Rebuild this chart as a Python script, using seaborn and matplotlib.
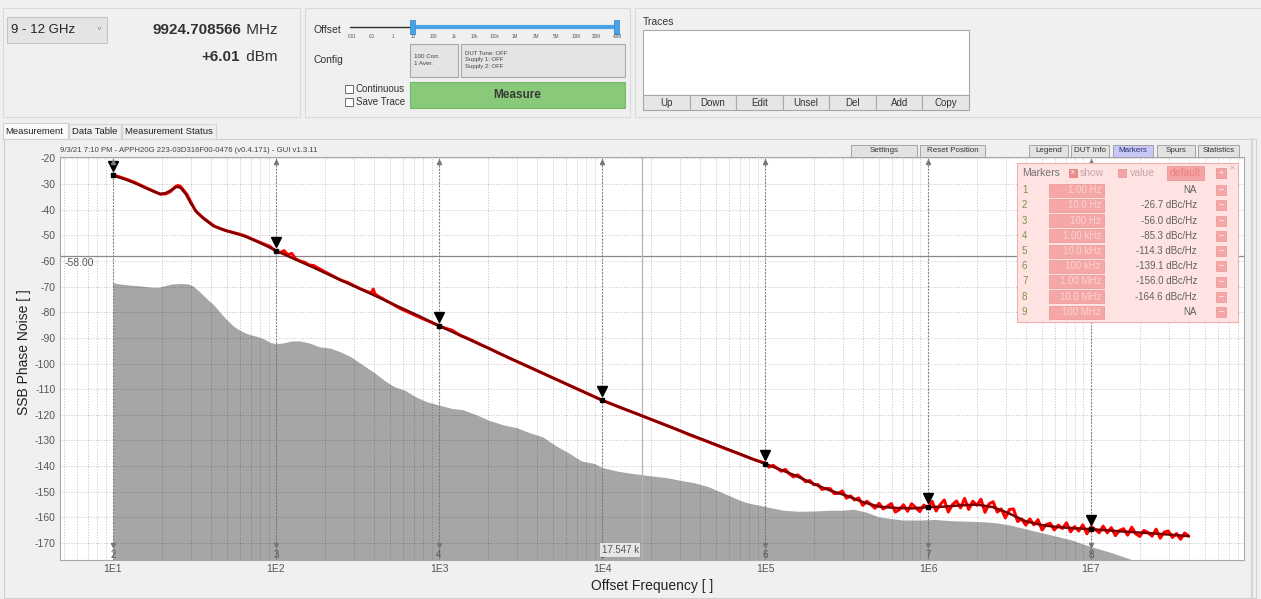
import numpy as np
import pandas as pd
import matplotlib
matplotlib.use("Agg")
import matplotlib.pyplot as plt
from matplotlib.patches import Rectangle
from matplotlib.lines import Line2D
from matplotlib.ticker import LogLocator, NullFormatter
from matplotlib import transforms
import seaborn as sns

# ---------------- data ----------------
# measured trace (raw, red) - low offset part
red_lo_freq = [10, 11, 12, 13.5, 15, 16.5, 18, 19.5, 21, 22.5, 24, 25, 26, 27, 28.5, 30, 32, 34, 36, 39,
               42, 46, 50, 55, 60, 66, 72, 78, 85, 92, 100, 106, 112, 118, 125, 132, 140, 150, 160, 170,
               180, 195, 210, 230, 250, 275, 300, 330, 360, 385, 395, 405, 430, 470, 520, 580, 650, 720,
               800, 900, 1000, 1100, 1200, 1350, 1500, 1650, 1800, 2000, 2300, 2700, 3200, 4000, 5000,
               6300, 8000, 10000, 13000, 17000, 22000, 28000, 35000, 45000, 56000, 70000, 85000]
red_lo_dbc = [-26.5, -27.3, -28.1, -29.3, -30.7, -31.9, -33.0, -34.0, -33.9, -33.0, -31.2, -30.6, -31.0,
              -32.3, -34.2, -37.0, -40.3, -42.0, -43.4, -45.0, -46.5, -47.5, -48.3, -49.0, -49.6, -50.5,
              -51.6, -52.5, -53.5, -54.4, -56.3, -56.8, -56.0, -57.6, -57.1, -59.2, -60.0, -60.6, -61.6,
              -61.8, -62.7, -63.9, -65.0, -66.3, -67.5, -68.4, -69.6, -70.9, -71.9, -72.5, -71.0, -72.9,
              -74.0, -75.4, -76.9, -78.6, -80.0, -81.3, -82.6, -84.0, -85.3, -86.3, -87.0, -89.0, -90.2,
              -91.4, -92.6, -93.9, -95.8, -97.9, -100.0, -102.8, -105.6, -108.5, -111.5, -114.3, -117.2,
              -120.0, -122.8, -125.4, -128.0, -130.6, -133.0, -135.3, -137.4]
# measured trace (raw, red) - noisy high offset part, 100 kHz .. 40 MHz (40 samples / decade)
red_hi_dbc = [-138.8, -140.4, -139.7, -140.8, -142.0, -141.3, -143.0, -144.2, -143.4, -144.6,
              -146.1, -145.6, -147.2, -147.2, -149.1, -148.7, -148.8, -150.7, -150.6, -149.7,
              -152.5, -151.6, -153.2, -152.4, -155.3, -153.7, -155.0, -156.4, -154.5, -156.7,
              -155.7, -154.6, -157.9, -156.9, -155.1, -157.6, -154.7, -156.2, -157.7, -155.2,
              -156.4, -153.7, -157.5, -155.0, -153.2, -157.9, -155.0, -153.6, -156.3, -152.6,
              -156.9, -153.7, -155.3, -152.9, -158.0, -154.7, -153.9, -157.9, -156.7, -160.2,
              -156.9, -156.7, -161.6, -160.6, -163.0, -160.6, -162.9, -160.9, -164.9, -162.8,
              -162.3, -164.9, -163.0, -164.3, -162.1, -165.6, -163.6, -165.3, -162.9, -166.4,
              -163.7, -164.6, -166.0, -163.4, -166.0, -164.0, -167.1, -165.1, -164.4, -166.9,
              -163.8, -166.4, -167.4, -165.1, -165.9, -167.3, -164.6, -168.1, -165.7, -165.3,
              -167.8, -166.3, -168.5, -166.1, -167.3]
red_hi_freq = np.logspace(5, 7.6, len(red_hi_dbc))

# smoothed trace (dark red)
smooth_freq = [10, 12, 14, 16, 18, 19.5, 21, 22.5, 24.6, 26, 28, 30, 32.6, 36, 41, 48, 54.6, 63, 72.6, 85,
               100, 130, 170, 220, 300, 400, 550, 760, 1000, 1600, 2700, 5000, 10000, 20000, 50000,
               1e5, 1.26e5, 1.58e5, 2e5, 2.51e5, 3.16e5, 3.98e5, 5.01e5, 6.31e5, 7.94e5,
               1e6, 1.26e6, 1.58e6, 2e6, 2.51e6, 3.16e6, 3.98e6, 5.01e6, 6.31e6, 7.94e6,
               1e7, 1.58e7, 2.51e7, 3.98e7]
smooth_dbc = [-26.7, -28.3, -30.0, -31.7, -33.1, -33.9, -33.6, -32.6, -31.1, -31.5, -34.0, -37.5, -41.0,
              -43.5, -46.3, -48.0, -49.0, -50.2, -51.8, -53.8, -56.0, -59.3, -62.6, -65.9, -69.8, -73.4,
              -77.5, -81.6, -85.3, -91.2, -97.8, -105.6, -114.3, -121.8, -131.6,
              -139.1, -141.5, -144.0, -147.0, -149.5, -151.5, -154.0, -155.8, -156.3, -156.5,
              -156.0, -155.8, -155.3, -155.0, -156.0, -158.5, -161.5, -163.0, -163.8, -164.2,
              -164.6, -165.5, -166.3, -167.3]

# system noise floor (grey area)
floor_freq = [10, 11, 13, 15, 17, 19, 21, 23, 26, 29, 31, 34, 38, 42, 46, 50, 55, 60, 66, 72, 78, 85, 92,
              100, 110, 125, 140, 160, 185, 215, 250, 290, 340, 400, 460, 530, 620, 720, 850, 1000,
              1200, 1400, 1700, 2000, 2500, 3000, 3600, 4300, 5200, 6300, 7500, 9000, 10000, 12500,
              16000, 20000, 25000, 30000, 37000, 45000, 53000, 62000, 70000, 80000, 93000, 110000,
              130000, 160000, 200000, 250000, 300000, 350000, 420000, 500000, 600000, 700000, 900000,
              1.1e6, 1.4e6, 1.8e6, 2.2e6, 2.7e6, 3.2e6, 4.0e6, 5.0e6, 6.3e6, 7.6e6, 1e7, 1.3e7, 1.7e7, 2.0e7]
floor_dbc = [-68.5, -69.0, -69.5, -69.8, -70.2, -70.3, -69.6, -69.0, -68.8, -69.0, -69.8, -72.0, -75.0,
             -77.5, -80.5, -83.0, -85.5, -87.0, -88.3, -89.0, -89.6, -90.5, -91.8, -92.3, -92.0, -91.2,
             -91.2, -92.0, -93.5, -94.0, -95.5, -97.5, -100.5, -103.5, -106.5, -109.0, -110.5, -113.0,
             -115.0, -116.2, -117.5, -118.0, -120.0, -122.0, -124.0, -125.0, -127.0, -128.5, -132.0,
             -135.0, -138.0, -139.0, -140.5, -142.0, -143.0, -143.8, -144.5, -145.5, -146.5, -148.0,
             -150.0, -151.8, -153.3, -154.5, -155.3, -156.3, -157.2, -157.6, -157.5, -157.2, -157.2,
             -156.8, -158.0, -159.8, -160.5, -161.0, -161.0, -160.8, -161.3, -161.5, -161.7, -162.2,
             -163.0, -164.5, -166.0, -167.5, -168.8, -171.4, -173.5, -176.0, -178.0]

# markers on the plot
marker_ids = [2, 3, 4, 5, 6, 7, 8]
marker_freq = [1e1, 1e2, 1e3, 1e4, 1e5, 1e6, 1e7]
marker_dbc = [-26.7, -56.0, -85.3, -114.3, -139.1, -156.0, -164.6]

# marker table
table_ids = ["1", "2", "3", "4", "5", "6", "7", "8", "9"]
table_freq = ["1.00 Hz", "10.0 Hz", "100 Hz", "1.00 kHz", "10.0 kHz", "100 kHz", "1.00 MHz", "10.0 MHz", "100 MHz"]
table_value = ["NA", "-26.7 dBc/Hz", "-56.0 dBc/Hz", "-85.3 dBc/Hz", "-114.3 dBc/Hz", "-139.1 dBc/Hz",
               "-156.0 dBc/Hz", "-164.6 dBc/Hz", "NA"]

cursor_freq = 17547
cursor_level = -58.0

xtick_vals = [1e1, 1e2, 1e3, 1e4, 1e5, 1e6, 1e7]
xtick_labels = ["1E1", "1E2", "1E3", "1E4", "1E5", "1E6", "1E7"]
ytick_vals = list(range(-20, -171, -10))
ytick_labels = [str(v) for v in ytick_vals]

slider_labels = ["0.01", "0.1", "1", "10", "100", "1k", "10k", "100k", "1M", "2M", "5M", "10M", "20M", "40M"]
trace_buttons = ["Up", "Down", "Edit", "Unsel", "Del", "Add", "Copy"]

# ---------------- figure ----------------
W, H = 1261, 599
sns.set_style("white")
plt.rcParams['font.family'] = ['Liberation Sans', 'DejaVu Sans']

fig = plt.figure(figsize=(W / 100, H / 100), dpi=100, facecolor='#f0f0f0')


def fx(x):
    return x / W


def fy(y):
    return 1 - y / H


def box(x0, y0, x1, y1, fc, ec='#a8a8a8', lw=0.8, z=1):
    fig.add_artist(Rectangle((fx(x0), fy(y1)), (x1 - x0) / W, (y1 - y0) / H, transform=fig.transFigure,
                             facecolor=fc, edgecolor=ec, linewidth=lw, zorder=z))


def txt(x, y, s, size=7, color='#202020', ha='left', va='center', weight='normal', z=5, **kw):
    fig.text(fx(x), fy(y), s, fontsize=size, color=color, ha=ha, va=va, fontweight=weight, zorder=z, **kw)


def hline(x0, x1, y, color, lw=1.0, z=2):
    fig.add_artist(Line2D([fx(x0), fx(x1)], [fy(y), fy(y)], transform=fig.transFigure, color=color, lw=lw, zorder=z))


# ----- top panels -----
box(3, 8, 300, 117, 'none', ec='#dadada', lw=0.8, z=-1)
box(305, 8, 630, 117, 'none', ec='#dadada', lw=0.8, z=-1)
box(635, 8, 1262, 117, 'none', ec='#dadada', lw=0.8, z=-1)

box(7, 17, 107, 43, '#e4e4e4', ec='#c4c4c4')
txt(11, 30, "9 - 12 GHz", size=9.5, color='#222222')
txt(99, 30, "\u02c5", size=6, color='#888888', ha='center')
txt(278, 30, " MHz", size=11, ha='right', color='#333333')
txt(241, 30, "9924.708566", size=11, ha='right', weight='bold', color='#333333')
txt(278, 57, " dBm", size=11, ha='right', color='#333333')
txt(240, 57, "+6.01", size=11, ha='right', weight='bold', color='#333333')

txt(313, 30, "Offset", size=7.5, color='#333333')
hline(350, 412, 27, '#333333', lw=1.0)
hline(412, 616, 27, '#4aa3e6', lw=3.0)
box(409.5, 20, 414.5, 34, '#4aa3e6', ec='#3a90d0', lw=0.6, z=3)
box(613.5, 20, 618.5, 34, '#4aa3e6', ec='#3a90d0', lw=0.6, z=3)
for i, lab in enumerate(slider_labels):
    txt(352 + i * 20.4, 36, lab, size=3.3, color='#555555', ha='center')

txt(313, 60, "Config", size=7.5, color='#333333')
box(410, 44, 458, 77, '#e4e4e4', ec='#a8a8a8')
txt(414, 60, "100 Corr.\n1 Aver.", size=4.5, color='#444444', linespacing=1.5)
box(461, 44, 625, 77, '#e4e4e4', ec='#a8a8a8')
txt(465, 60, "DUT Tune: OFF\nSupply 1: OFF\nSupply 2: OFF", size=4.3, color='#444444', linespacing=1.35)

box(345, 85, 353, 93, 'white', ec='#555555', lw=0.6)
box(345, 98, 353, 106, 'white', ec='#555555', lw=0.6)
txt(356, 89, "Continuous", size=7, color='#333333')
txt(356, 102, "Save Trace", size=7, color='#333333')
box(410, 82, 625, 108, '#88c97a', ec='#74b866')
txt(517, 95, "Measure", size=8.5, weight='bold', color='#3a3a3a', ha='center')

txt(643, 22, "Traces", size=7.5, color='#333333')
box(643, 30, 969, 95, 'white', ec='#a8a8a8')
bw = (969 - 643) / len(trace_buttons)
for i, lab in enumerate(trace_buttons):
    box(643 + i * bw, 95, 643 + (i + 1) * bw, 110, '#e6e6e6', ec='#a8a8a8')
    txt(643 + (i + 0.5) * bw, 102.5, lab, size=7, color='#333333', ha='center')

# tabs
box(3, 123, 68, 139, '#fafafa', ec='#d0d0d0')
txt(5, 131, "Measurement", size=6.8, color='#222222')
box(69, 124, 121, 139, '#eeeeee', ec='#d6d6d6')
txt(72, 131.5, "Data Table", size=6.8, color='#222222')
box(122, 124, 216, 139, '#eeeeee', ec='#d6d6d6')
txt(125, 131.5, "Measurement Status", size=6.8, color='#222222')

# chart panel
box(4, 139, 1256, 598, '#f0f0f0', ec='#cfcfcf', lw=0.8, z=-1)
fig.add_artist(Line2D([fx(1252), fx(1252)], [fy(139), fy(598)], transform=fig.transFigure,
                      color='#d4d4d4', lw=1.5, zorder=2))

txt(60, 151, "9/3/21 7:10 PM - APPH20G 223-03D316F00-0476 (v0.4.171) - GUI v1.3.11",
    size=5.6, color='#444444')

chart_buttons = [("Settings", 851, 917, '#e2e2e2', '#333333'), ("Reset Position", 920, 985, '#e2e2e2', '#333333'),
                 ("Legend", 1029, 1068, '#e2e2e2', '#333333'), ("DUT Info", 1071, 1109, '#e2e2e2', '#333333'),
                 ("Markers", 1113, 1153, '#c8c8f8', '#303070'), ("Spurs", 1157, 1195, '#e2e2e2', '#333333'),
                 ("Statistics", 1198, 1239, '#e2e2e2', '#333333')]
for lab, x0, x1, fc, tc in chart_buttons:
    box(x0, 145, x1, 157, fc, ec='#9a9a9a', lw=0.6, z=6)
    txt((x0 + x1) / 2, 151, lab, size=5.8, color=tc, ha='center', z=7)

# ----- axes -----
ax = fig.add_axes([fx(60), fy(560), 1184 / W, 403 / H])
ax.set_facecolor('white')
ax.set_xscale('log')

ax.fill_between(floor_freq, floor_dbc, -200, color='#a6a6a6', lw=0, zorder=0.3)

ax.set_axisbelow(True)
ax.xaxis.set_minor_locator(LogLocator(base=10, subs=np.arange(2, 10), numticks=20))
ax.xaxis.set_minor_formatter(NullFormatter())
ax.grid(True, which='both', axis='x', color='black', alpha=0.2, ls=(0, (1.2, 1.6)), lw=0.7)
ax.grid(True, which='major', axis='y', color='black', alpha=0.2, ls=(0, (1.2, 1.6)), lw=0.7)

# cursor cross-hair
ax.axhline(cursor_level, color='#8a8a8a', lw=0.9, zorder=2)
ax.axvline(cursor_freq, color='#b4b4b4', lw=0.9, zorder=2)

# marker vertical lines
for f in marker_freq:
    ax.axvline(f, color='#777777', lw=0.8, ls=(0, (1.5, 1.5)), zorder=2.2)

df_red = pd.DataFrame({"freq": list(red_lo_freq) + list(red_hi_freq), "dbc": red_lo_dbc + red_hi_dbc})
df_smooth = pd.DataFrame({"freq": smooth_freq, "dbc": smooth_dbc})
sns.lineplot(data=df_red, x="freq", y="dbc", ax=ax, color='#ff0000', lw=2.2, estimator=None, sort=False, zorder=3)
sns.lineplot(data=df_smooth, x="freq", y="dbc", ax=ax, color='#7c0000', lw=1.8, estimator=None, sort=False, zorder=4)

# markers
off = transforms.offset_copy(ax.transData, fig=fig, x=0, y=9, units='dots')
ax.plot(marker_freq, marker_dbc, ls='none', marker='v', ms=7, color='black', transform=off, zorder=6)
ax.plot(marker_freq, marker_dbc, ls='none', marker='s', ms=3, color='black', zorder=6)
bt = transforms.blended_transform_factory(ax.transData, ax.transAxes)
for mid, f in zip(marker_ids, marker_freq):
    ax.plot([f], [0.988], marker='^', ms=3, color='#777777', transform=bt, clip_on=False, zorder=6)
    ax.plot([f], [0.036], marker='v', ms=3, color='#777777', transform=bt, clip_on=False, zorder=6)
    ax.text(f, 0.012, str(mid), transform=bt, ha='center', va='center', fontsize=7, color='#555555', zorder=6)

ab = transforms.blended_transform_factory(ax.transAxes, ax.transData)
ax.text(0.004, cursor_level - 1.0, "-58.00", transform=ab, ha='left', va='top', fontsize=7.5, color='#555555')
cl = transforms.offset_copy(bt, fig=fig, x=-3, y=0, units='dots')
ax.text(cursor_freq, 0.025, "17.547 k", transform=cl, ha='right', va='center',
        fontsize=7, color='#555555', zorder=7,
        bbox=dict(facecolor='#e6e6e6', edgecolor='none', pad=1.2))

ax.set_xlim(4.73, 8.69e7)
ax.set_ylim(-176.6, -19.5)
ax.set_xticks(xtick_vals)
ax.set_xticklabels(xtick_labels)
ax.set_yticks(ytick_vals)
ax.set_yticklabels(ytick_labels)
ax.tick_params(axis='both', which='both', length=0, labelsize=7.5, colors='#555555')
ax.tick_params(axis='x', pad=3)
ax.tick_params(axis='y', pad=3)
ax.set_xlabel("")
ax.set_ylabel("")
for s in ax.spines.values():
    s.set_color('#a8a8a8')
    s.set_linewidth(0.8)

txt(24, 352, "SSB Phase Noise [ ]", size=10, color='#222222', ha='center', rotation=90)
txt(652, 586, "Offset Frequency [ ]", size=10, color='#222222', ha='center')

# ----- marker table -----
box(1017, 163, 1238, 322, '#ffe3e3', ec='#f0b0b0', lw=0.8, z=8)
txt(1022, 173, "Markers", size=7.5, color='#707070', z=9)
box(1069, 169, 1077, 177, '#f08c8c', ec='#e07878', lw=0.5, z=9)
txt(1073, 173, "x", size=5, color='#ffffff', ha='center', z=10)
txt(1080, 173, "show", size=7.5, color='#c8a4a4', z=9)
box(1118, 169, 1126, 177, '#f4a4a4', ec='#e89090', lw=0.5, z=9)
txt(1130, 173, "value", size=7.5, color='#c8a4a4', z=9)
box(1167, 166, 1204, 180, '#f4a4a4', ec='#e89090', lw=0.5, z=9)
txt(1185.5, 173, "default", size=7.5, color='#e88080', ha='center', z=10)
box(1216, 168, 1226, 178, '#f4a4a4', ec='#e89090', lw=0.5, z=9)
txt(1221, 173, "+", size=6, color='#ffffff', ha='center', z=10)
txt(1232, 168, "\u00d7", size=6, color='#c0a0a0', ha='center', z=9)
for i in range(len(table_ids)):
    yc = 190 + i * 15.25
    txt(1022, yc, table_ids[i], size=7, color='#7a9440', z=9)
    box(1049, yc - 6.5, 1104, yc + 6.5, '#f5a7a7', ec='#eb9494', lw=0.5, z=9)
    txt(1101, yc, table_freq[i], size=7, color='#fbd2d2', ha='right', z=10)
    txt(1197, yc, table_value[i], size=7, color='#606060', ha='right', z=9)
    box(1216, yc - 5, 1226, yc + 5, '#f5a7a7', ec='#eb9494', lw=0.5, z=9)
    txt(1221, yc, "\u2212", size=6, color='#ffffff', ha='center', z=10)

fig.savefig("out.png", dpi=100, facecolor=fig.get_facecolor())
